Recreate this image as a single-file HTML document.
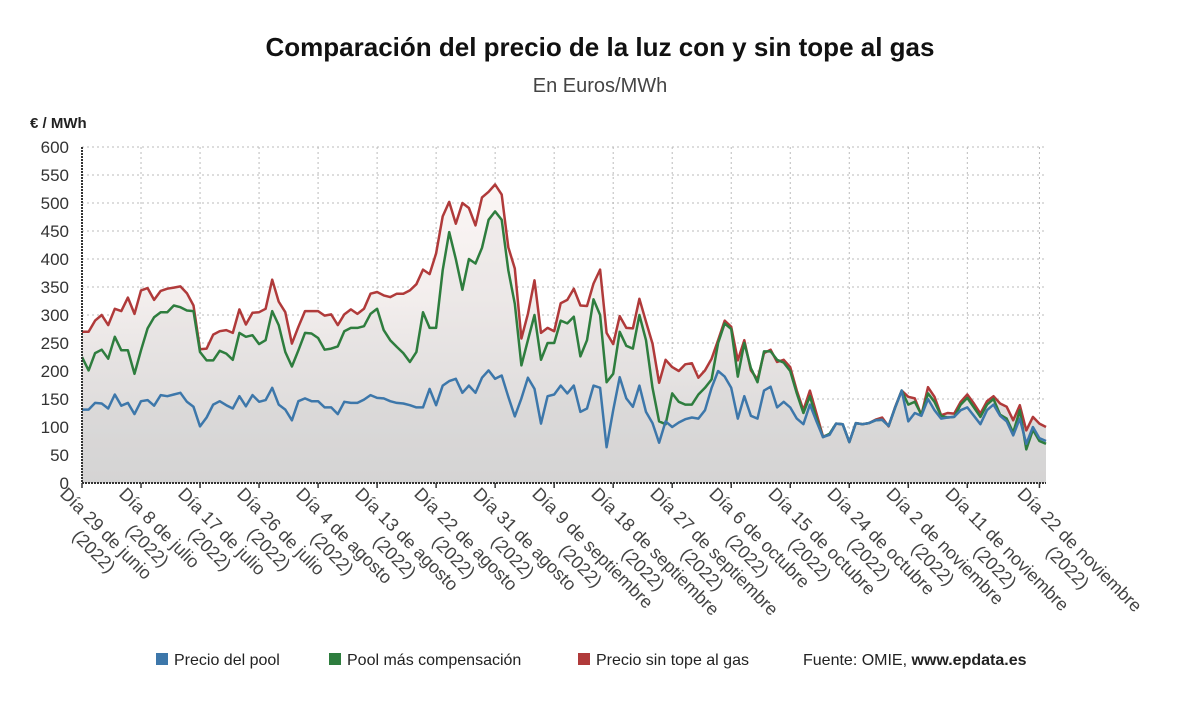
<!DOCTYPE html>
<html><head><meta charset="utf-8">
<style>
html,body{margin:0;padding:0;background:#fff;}
svg{display:block;font-family:"Liberation Sans",sans-serif;}
</style></head>
<body>
<svg id="chart" width="1200" height="705" viewBox="0 0 1200 705">
<defs>
<linearGradient id="fillGrad" x1="0" y1="147" x2="0" y2="483" gradientUnits="userSpaceOnUse">
<stop offset="0" stop-color="#fdf8f7"/>
<stop offset="0.45" stop-color="#f3eeed"/>
<stop offset="1" stop-color="#d2d2d2"/>
</linearGradient>
</defs>
<text x="600" y="56" text-anchor="middle" font-size="26" font-weight="bold" fill="#111">Comparación del precio de la luz con y sin tope al gas</text>
<text x="600" y="92" text-anchor="middle" font-size="20" fill="#444">En Euros/MWh</text>
<text x="30" y="128" font-size="15" font-weight="bold" fill="#222">€ / MWh</text>
<g id="grid"></g>
<g id="areas"></g>
<g id="lines"></g>
<g id="axes"></g>
<g id="legend">
<rect x="156" y="653" width="12" height="12" fill="#3d77aa"/>
<text x="174" y="665" font-size="16" fill="#222">Precio del pool</text>
<rect x="329" y="653" width="12" height="12" fill="#2e7d3e"/>
<text x="347" y="665" font-size="16" fill="#222">Pool más compensación</text>
<rect x="578" y="653" width="12" height="12" fill="#b03a3a"/>
<text x="596" y="665" font-size="16" fill="#222">Precio sin tope al gas</text>
<text x="803" y="665" font-size="16" fill="#222">Fuente: OMIE, <tspan font-weight="bold">www.epdata.es</tspan></text>
</g>
</svg>
<script>
const tickLabels = ["Día 29 de junio","Día 8 de julio","Día 17 de julio","Día 26 de julio","Día 4 de agosto","Día 13 de agosto","Día 22 de agosto","Día 31 de agosto","Día 9 de septiembre","Día 18 de septiembre","Día 27 de septiembre","Día 6 de octubre","Día 15 de octubre","Día 24 de octubre","Día 2 de noviembre","Día 11 de noviembre","Día 22 de noviembre"];
const tickDays = [0,9,18,27,36,45,54,63,72,81,90,99,108,117,126,135,146];
const yTicks = [0,50,100,150,200,250,300,350,400,450,500,550,600];
const sinTope = [270,270,290,300,282,311,307,331,302,344,348,327,343,347,349,351,339,317,239,240,265,271,273,268,310,283,304,305,311,363,324,305,249,279,307,307,307,299,301,282,301,310,302,311,338,341,335,332,338,338,344,355,381,373,410,476,502,463,500,491,460,510,520,533,515,421,383,258,302,362,268,277,271,321,327,347,317,316,356,381,268,248,298,277,276,329,288,249,179,220,207,200,212,214,188,201,222,255,290,279,219,255,201,185,232,238,216,220,207,165,130,165,124,83,87,106,105,73,107,105,107,113,117,101,136,165,154,151,121,171,154,121,125,124,145,158,142,124,146,155,142,136,112,139,94,118,106,100];
const conComp = [225,201,232,238,222,261,237,237,195,237,276,296,305,305,317,314,308,307,234,219,219,236,231,220,268,261,264,248,255,307,282,234,208,237,268,267,259,238,240,244,271,277,277,280,302,311,273,255,243,232,216,234,305,277,277,380,448,400,345,400,392,420,470,485,470,380,320,210,255,300,220,250,250,290,285,297,226,255,328,300,180,195,270,245,240,300,255,170,110,105,160,145,140,140,158,170,185,250,285,275,190,250,205,180,235,235,220,215,200,160,125,155,115,82,88,106,105,73,107,105,107,112,113,102,135,165,140,145,122,160,145,120,117,118,140,152,135,118,140,150,122,115,90,130,60,95,75,70];
const pool = [131,131,143,142,133,158,138,143,123,146,148,138,157,155,158,161,145,136,101,117,140,146,139,133,155,137,157,145,148,170,140,131,112,146,151,146,146,135,135,123,145,143,143,149,157,152,151,146,143,142,139,135,135,168,139,174,182,186,161,174,161,188,201,186,192,154,119,151,188,168,106,155,158,174,160,174,127,133,174,170,64,130,189,151,136,174,127,107,72,110,100,108,114,117,115,130,170,200,190,170,115,155,120,115,165,172,135,145,135,115,105,140,110,82,86,106,105,73,107,105,107,112,113,102,135,165,110,125,120,150,130,115,117,118,130,135,120,105,130,140,120,110,85,115,70,100,80,75];

const NS = "http://www.w3.org/2000/svg";
const X0 = 82, X1 = 1046, Y0 = 483, Y1 = 147, YMAX = 600;
const nDays = 147;
function xScale(d){ return X0 + (X1 - X0) * d / nDays; }
function yScale(v){ return Y0 - (Y0 - Y1) * v / YMAX; }
function mk(tag, attrs, parent){ const e = document.createElementNS(NS, tag); for (const k in attrs) e.setAttribute(k, attrs[k]); parent.appendChild(e); return e; }

const grid = document.getElementById('grid');
const axes = document.getElementById('axes');
yTicks.forEach(v => {
  const y = yScale(v);
  if (v > 0) {
    const l = mk('line', {x1:X0, x2:X1, y1:y, y2:y, stroke:'#bbb', 'stroke-width':1, 'stroke-dasharray':'2,3'}, grid);
    
    
  }
  const t = mk('text', {x:69, y:y+6, 'text-anchor':'end', 'font-size':17, fill:'#333'}, axes);
  t.textContent = v;
  
  
});
tickDays.forEach((d, i) => {
  const x = xScale(d);
  if (d > 0) {
    const l = mk('line', {x1:x, x2:x, y1:Y1, y2:Y0, stroke:'#bbb', 'stroke-width':1, 'stroke-dasharray':'2,3'}, grid);
    
    
  }
  const tk = mk('line', {x1:x, x2:x, y1:Y0, y2:Y0+5, stroke:'#333', 'stroke-width':1.5}, axes);
  
  
  const g = mk('g', {transform:'translate(' + (x - 14) + ',' + 486 + ') rotate(45)'}, axes);
  
  
  const t1 = mk('text', {x:0, y:0, 'font-size':18, fill:'#444', 'dominant-baseline':'hanging'}, g);
  t1.textContent = tickLabels[i];
  const w = t1.getComputedTextLength();
  const t2 = mk('text', {x:w/2 + 4, y:21, 'font-size':18, fill:'#444', 'text-anchor':'middle', 'dominant-baseline':'hanging'}, g);
  t2.textContent = '(2022)';
});
const ya = mk('line', {x1:X0, x2:X0, y1:Y1, y2:Y0, stroke:'#333', 'stroke-width':2, 'stroke-dasharray':'2,1'}, axes);


const xa = mk('line', {x1:X0, x2:X1, y1:Y0, y2:Y0, stroke:'#333', 'stroke-width':2, 'stroke-dasharray':'2,1'}, axes);



function pts(arr){ return arr.map((v, d) => xScale(d).toFixed(1) + ',' + yScale(v).toFixed(1)).join(' '); }
function lastX(arr){ return xScale(arr.length - 1); }
const areas = document.getElementById('areas');
const ar = mk('polygon', {points: xScale(0) + ',' + Y0 + ' ' + pts(sinTope) + ' ' + lastX(sinTope) + ',' + Y0, fill:'url(#fillGrad)'}, areas);


const ag = mk('polygon', {points: xScale(0) + ',' + Y0 + ' ' + pts(conComp) + ' ' + lastX(conComp) + ',' + Y0, fill:'#e0dedd', 'fill-opacity':0.35}, areas);


const ab = mk('polygon', {points: xScale(0) + ',' + Y0 + ' ' + pts(pool) + ' ' + lastX(pool) + ',' + Y0, fill:'#cfcfcf', 'fill-opacity':0.3}, areas);



const lines = document.getElementById('lines');
const lr = mk('polyline', {points: pts(sinTope), fill:'none', stroke:'#b03a3a', 'stroke-width':2.5, 'stroke-linejoin':'round'}, lines);


const lg = mk('polyline', {points: pts(conComp), fill:'none', stroke:'#2e7d3e', 'stroke-width':2.5, 'stroke-linejoin':'round'}, lines);


const lb = mk('polyline', {points: pts(pool), fill:'none', stroke:'#3d77aa', 'stroke-width':2.5, 'stroke-linejoin':'round'}, lines);


</script>
</body></html>
